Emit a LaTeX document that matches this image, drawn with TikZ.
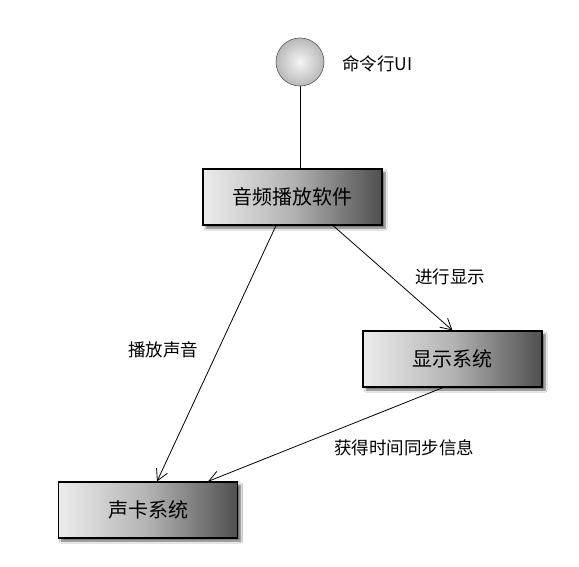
\documentclass[tikz,border=0pt]{standalone}
\usepackage{fontspec}
\setmainfont{Noto Sans CJK SC}
\usetikzlibrary{arrows.meta,shadows.blur}
\tikzset{
  sysbox/.style={draw=black, line width=1.1pt, minimum width=179pt, minimum height=56pt,
    left color=gray!15, right color=gray!55!black!95, middle color=gray!60,
    blur shadow={shadow xshift=3pt, shadow yshift=-3pt, shadow blur steps=6, shadow opacity=60},
    font=\fontsize{20}{23}\selectfont, inner sep=0pt},
  actor/.style={circle, draw=gray!70!black, line width=0.6pt, minimum size=48pt, inner sep=0pt,
    inner color=gray!8, outer color=gray!55},
  lbl/.style={font=\fontsize{17.5}{20}\selectfont, inner sep=0pt},
  conn/.style={draw=black, line width=0.8pt},
  arr/.style={conn, -{Straight Barb[length=11pt,width=12pt,line width=0.8pt]}}
}
\begin{document}
\begin{tikzpicture}[x=1pt,y=-1pt]
\useasboundingbox[fill=white] (0,0) rectangle (579,567);
\node[actor] (ui) at (300,62) {};
\node[lbl, anchor=west] (uil) at (342,64) {命令行UI};
\node[sysbox] (app) at (292.5,197) {音频播放软件};
\node[sysbox] (disp) at (452.5,359) {显示系统};
\node[sysbox] (snd) at (148,510) {声卡系统};
\draw[conn] (ui.south) -- (ui.south |- app.north);
\draw[arr] ([xshift=-16.5pt]app.south) -- ([xshift=9pt]snd.north);
\draw[arr] ([xshift=40.5pt]app.south) -- (disp.north);
\draw[arr] ([xshift=-9.5pt]disp.south) -- ([xshift=60pt]snd.north);
\node[lbl] (l1) at (450,277) {进行显示};
\node[lbl] (l2) at (163,350) {播放声音};
\node[lbl] (l3) at (404,448) {获得时间同步信息};
\end{tikzpicture}
\end{document}
